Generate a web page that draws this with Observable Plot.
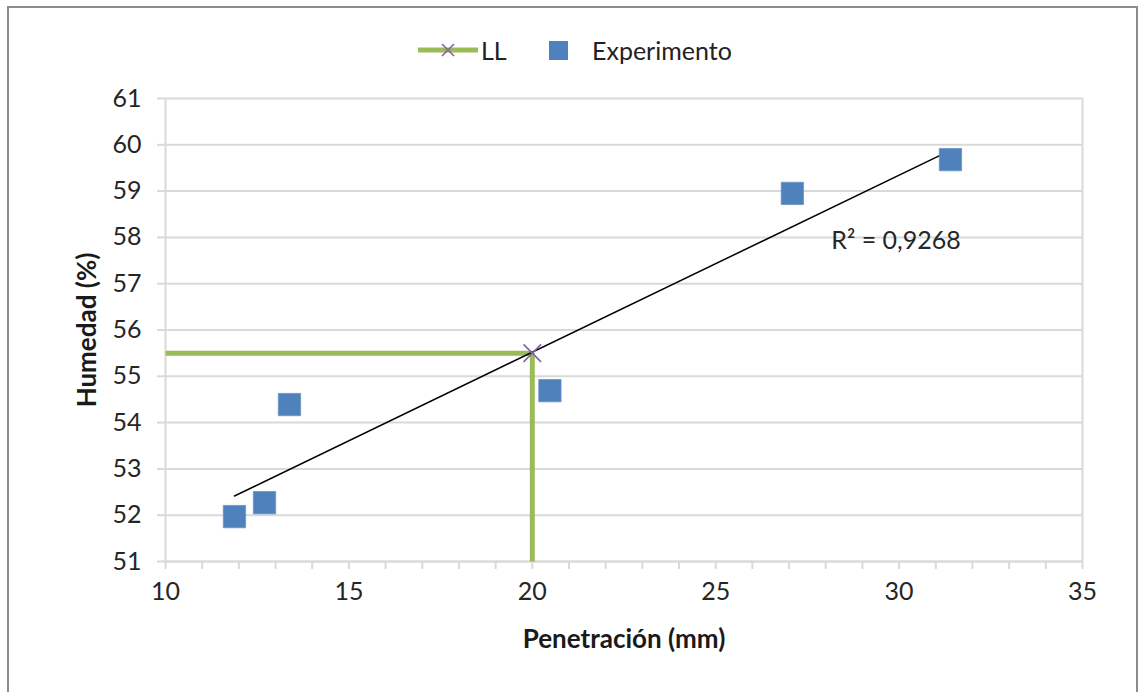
<!DOCTYPE html>
<html>
<head>
<meta charset="utf-8">
<script src="https://cdn.jsdelivr.net/npm/d3@7"></script>
<script src="https://cdn.jsdelivr.net/npm/@observablehq/plot@0.6"></script>
<style>
  html, body { margin: 0; padding: 0; background: #fff; }
  #wrap { position: relative; width: 1139px; height: 692px; overflow: hidden; font-family: Lato, sans-serif; }
  #frame { position: absolute; left: 7px; top: 6px; width: 1131px; height: 700px; border: 2px solid #8c8c8c; border-bottom: none; box-sizing: border-box; pointer-events: none; }
  #legend { position: relative; height: 80px; }
  .lg-item { position: absolute; top: 34px; display: flex; align-items: center; font-size: 25px; color: #222; height: 32px; }
  #chart svg { display: block; }
</style>
</head>
<body>
<div id="wrap">
  <div id="legend"></div>
  <div id="chart"></div>
  <div id="frame"></div>
</div>
<script>
// ---- Data ----
const seriesNames = ["LL", "Experimento"];
const penetracion = [11.88, 12.70, 13.38, 20.48, 27.09, 31.40];   // mm
const humedad     = [51.97, 52.27, 54.39, 54.69, 58.95, 59.68];   // %
const llX = [10, 20, 20];          // LL guide line (penetration)
const llY = [55.5, 55.5, 51];      // LL guide line (humidity)
const llPoint = {x: 20, y: 55.5};
const r2Label = "R² = 0,9268";
const r2Pos = {x: 28.15, y: 57.93};
const xTicks = [10, 15, 20, 25, 30, 35];
const yTicks = [51, 52, 53, 54, 55, 56, 57, 58, 59, 60, 61];
const xLabel = "Penetración (mm)";
const yLabel = "Humedad (%)";

const colors = {ll: "#9bbb59", llMarker: "#8064a2", exp: "#4f81bd", grid: "#d9d9d9", text: "#262626"};

const points = penetracion.map((x, i) => ({x, y: humedad[i]}));
const llLine = llX.map((x, i) => ({x, y: llY[i]}));
const xMinor = d3.range(xTicks[0], xTicks[xTicks.length - 1] + 1, 1);

// ---- Legend ----
const legend = document.getElementById("legend");
const li1 = document.createElement("div");
li1.className = "lg-item";
li1.style.left = "418px";
li1.innerHTML = `<svg width="62" height="20" style="margin-right:1px"><line x1="0" y1="10" x2="60" y2="10" stroke="${colors.ll}" stroke-width="5"/><path d="M24,4 L36,16 M36,4 L24,16" stroke="${colors.llMarker}" stroke-width="1.6"/></svg><span>${seriesNames[0]}</span>`;
legend.appendChild(li1);
const li2 = document.createElement("div");
li2.className = "lg-item";
li2.style.left = "549px";
li2.innerHTML = `<svg width="19" height="19" style="margin-right:24px"><rect x="0" y="0" width="19" height="19" fill="${colors.exp}"/></svg><span>${seriesNames[1]}</span>`;
legend.appendChild(li2);

// ---- Chart ----
const chart = Plot.plot({
  width: 1139,
  height: 612,
  marginTop: 18,
  marginBottom: 131,
  marginLeft: 165,
  marginRight: 57,
  style: {fontFamily: "Lato, sans-serif", fontSize: "25px", color: colors.text, background: "transparent"},
  x: {domain: [10, 35]},
  y: {domain: [51, 61]},
  marks: [
    Plot.gridY(yTicks, {stroke: colors.grid, strokeOpacity: 1, strokeWidth: 2}),
    Plot.ruleX([35], {stroke: colors.grid, strokeWidth: 2}),
    Plot.ruleX([10], {stroke: colors.grid, strokeWidth: 2}),
    Plot.ruleY([51], {stroke: colors.grid, strokeWidth: 2}),
    Plot.axisY(yTicks, {tickSize: 8, tickPadding: 16, stroke: colors.grid, strokeWidth: 2, fill: colors.text, fontSize: 25, label: null}),
    Plot.axisX(xMinor, {tickSize: 8, tickPadding: 13, stroke: colors.grid, strokeWidth: 2, fill: colors.text, fontSize: 25, label: null,
      tickFormat: d => xTicks.includes(d) ? String(d) : ""}),
    Plot.line(llLine, {x: "x", y: "y", stroke: colors.ll, strokeWidth: 5, strokeLinejoin: "miter", strokeLinecap: "butt"}),
    Plot.linearRegressionY(points, {x: "x", y: "y", ci: 0, stroke: "#000", strokeWidth: 1.5}),
    Plot.dot(points, {x: "x", y: "y", symbol: "square", r: 12.6, fill: colors.exp, stroke: "#6a94c8", strokeWidth: 0.8}),
    Plot.dot([llPoint], {x: "x", y: "y", symbol: "times", r: 8, stroke: colors.llMarker, strokeWidth: 1.6}),
    Plot.text([r2Label], {x: r2Pos.x, y: r2Pos.y, text: d => d, textAnchor: "start", fontSize: 25, fill: colors.text}),
    Plot.text([xLabel], {frameAnchor: "bottom", dy: 78, textAnchor: "middle", lineAnchor: "middle", text: d => d, fontSize: 26, fontWeight: "bold", fill: "#1a1a1a"}),
    Plot.text([yLabel], {frameAnchor: "left", dx: -78, rotate: -90, textAnchor: "middle", lineAnchor: "middle", text: d => d, fontSize: 26, fontWeight: "bold", fill: "#1a1a1a"})
  ]
});
document.getElementById("chart").appendChild(chart);
</script>
</body>
</html>
